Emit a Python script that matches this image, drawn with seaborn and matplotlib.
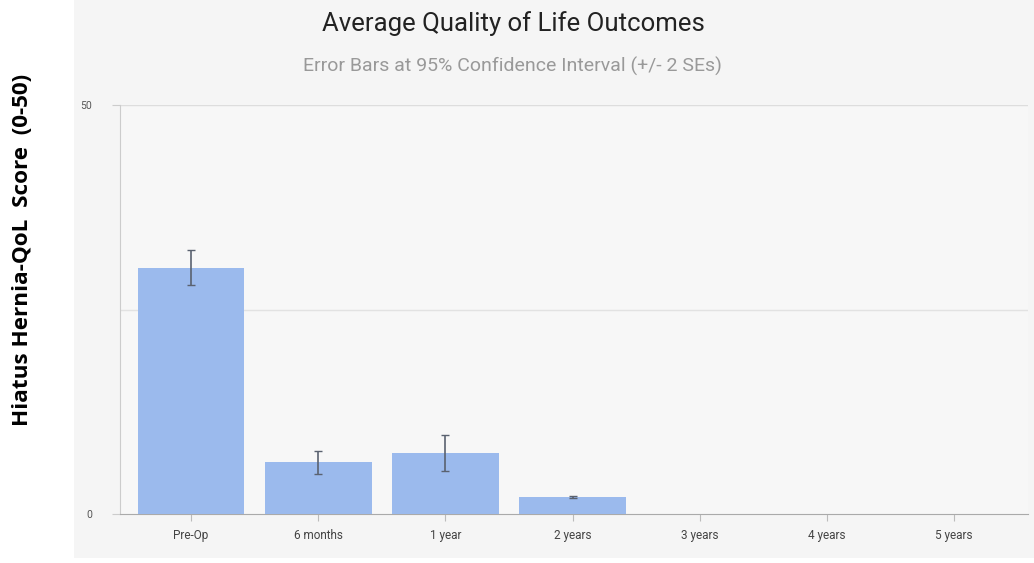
import numpy as np
import pandas as pd
import matplotlib
matplotlib.use("Agg")
import matplotlib.pyplot as plt
from matplotlib.patches import Rectangle
import seaborn as sns

# data
periods = ['Pre-Op', '6 months', '1 year', '2 years', '3 years', '4 years', '5 years']
mean_score = [30.1, 6.3, 7.4, 2.05, 0, 0, 0]
ci_low = [28.0, 4.85, 5.2, 2.0, np.nan, np.nan, np.nan]
ci_high = [32.3, 7.75, 9.65, 2.15, np.nan, np.nan, np.nan]
y_ticks = [0, 50]

df = pd.DataFrame({'period': periods, 'score': mean_score,
                   'lo': ci_low, 'hi': ci_high})

sns.set_style('white')
plt.rcParams['font.family'] = ['Roboto', 'DejaVu Sans']

fig = plt.figure(figsize=(10.34, 5.63), dpi=100)
fig.patch.set_facecolor('white')
# grey panel behind the chart
fig.patches.append(Rectangle((74/1034, 5/563), 1 - 74/1034, 1 - 5/563,
                             transform=fig.transFigure, facecolor='#f5f5f5',
                             edgecolor='none', zorder=-10))

ax = fig.add_axes([120/1034, (563-514)/563, 908/1034, 409/563])
ax.set_zorder(1)
ax.set_facecolor('#f7f7f7')

sns.barplot(data=df, x='period', y='score', color='#9bbaed', width=0.84,
            saturation=1, linewidth=0, ax=ax, zorder=3)

sub = df.dropna()
pos = [periods.index(p) for p in sub['period']]
yerr = np.vstack([sub['score'] - sub['lo'], sub['hi'] - sub['score']])
ax.errorbar(pos, sub['score'], yerr=yerr, fmt='none', ecolor='#5a6270',
            elinewidth=1.2, capsize=3, capthick=1, zorder=4)

ax.set_ylim(0, 50)
ax.set_xlim(-0.558, 6.58)
ax.set_yticks(y_ticks)
ax.set_yticklabels([str(t) for t in y_ticks], fontsize=7.5, color='#555555')
ax.axhline(25, color='#e2e2e2', lw=1, zorder=1)
ax.axhline(50, color='#dddddd', lw=1, zorder=1)

for s in ['top', 'right']:
    ax.spines[s].set_visible(False)
ax.spines['left'].set_color('#cccccc')
ax.spines['bottom'].set_color('#aaaaaa')
ax.tick_params(axis='x', length=5, color='#bbbbbb', labelsize=8.5,
               labelcolor='#444444', pad=6, direction='out', bottom=True)
ax.tick_params(axis='y', length=6, color='#cccccc', pad=14, left=True)
ax.set_xlabel('')
ax.set_ylabel('')

fig.text(0.497, 0.958, 'Average Quality of Life Outcomes', ha='center',
         va='center', fontsize=18.5, color='#222222')
fig.text(0.496, 0.882, 'Error Bars at 95% Confidence Interval (+/- 2 SEs)',
         ha='center', va='center', fontsize=14, color='#999999')
fig.text(0.022, 0.556, 'Hiatus Hernia-QoL  Score  (0-50)', rotation=90,
         ha='center', va='center', fontsize=16.2, fontweight='bold',
         family=['Open Sans', 'DejaVu Sans'], color='black')

fig.savefig('out.png', dpi=100)
